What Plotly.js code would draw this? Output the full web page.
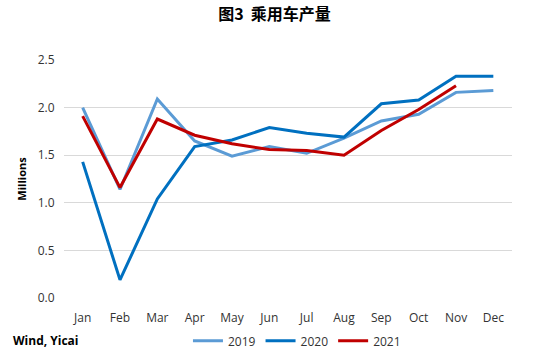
<!DOCTYPE html>
<html><head><meta charset="utf-8">
<script src="https://cdn.plot.ly/plotly-3.0.1.min.js"></script>
<style>html,body{margin:0;padding:0;background:#fff}#chart{width:549px;height:359px}</style>
</head><body><div id="chart"></div>
<script>
const months = ["Jan","Feb","Mar","Apr","May","Jun","Jul","Aug","Sep","Oct","Nov","Dec"];
const y2019 = [2.00,1.14,2.09,1.65,1.49,1.59,1.52,1.68,1.86,1.93,2.16,2.18];
const y2020 = [1.43,0.19,1.04,1.59,1.66,1.79,1.73,1.69,2.04,2.08,2.33,2.33];
const y2021 = [1.91,1.16,1.88,1.71,1.62,1.56,1.55,1.50,1.76,1.98,2.23];
const seriesNames = ["2019","2020","2021"];
const colors = ["#5B9BD5","#0070C0","#C00000"];
const tickFont = {family:"Open Sans, Liberation Sans, sans-serif", size:12, color:"#333"};
const data = [y2019,y2020,y2021].map((v,i)=>({
  x: months.slice(0, v.length), y: v, type:"scatter", mode:"lines",
  name: seriesNames[i], line:{color:colors[i], width:3}
}));
const layout = {
  width:549, height:359,
  margin:{l:64, r:37, t:60, b:61, autoexpand:false},
  paper_bgcolor:"#fff", plot_bgcolor:"#fff",
  title:{text:"<b>图3  乘用车产量</b>", x:0.5, xanchor:"center", y:0.96, yanchor:"middle",
    font:{family:"Noto Sans CJK SC", size:16, color:"#000"}},
  xaxis:{type:"category", range:[-0.5,11.5], showgrid:false, zeroline:false, showline:false,
    tickfont:tickFont, ticks:"outside", ticklen:9, tickcolor:"rgba(0,0,0,0)", fixedrange:true},
  yaxis:{range:[0,2.5], dtick:0.5, tickformat:".1f", showgrid:true, gridcolor:"#d9d9d9", gridwidth:1,
    zeroline:false, showline:false, tickfont:tickFont, ticks:"outside", ticklen:6, tickcolor:"rgba(0,0,0,0)",
    title:{text:"<b>Millions</b>", font:{family:"Open Sans, Liberation Sans, sans-serif", size:11, color:"#000"}, standoff:8}},
  showlegend:true,
  legend:{orientation:"h", x:0.52, xanchor:"center", y:-0.18, yanchor:"middle", bgcolor:"rgba(0,0,0,0)",
    font:{family:"Open Sans, Liberation Sans, sans-serif", size:12, color:"#333"}, itemwidth:30, tracegroupgap:0},
  annotations:[{text:"<b>Wind, Yicai</b>", xref:"paper", yref:"paper", x:-0.118, xanchor:"left",
    y:-0.18, yanchor:"middle", showarrow:false,
    font:{family:"Open Sans, Liberation Sans, sans-serif", size:12, color:"#000"}}]
};
Plotly.newPlot("chart", data, layout, {displayModeBar:false, staticPlot:true});
</script></body></html>
